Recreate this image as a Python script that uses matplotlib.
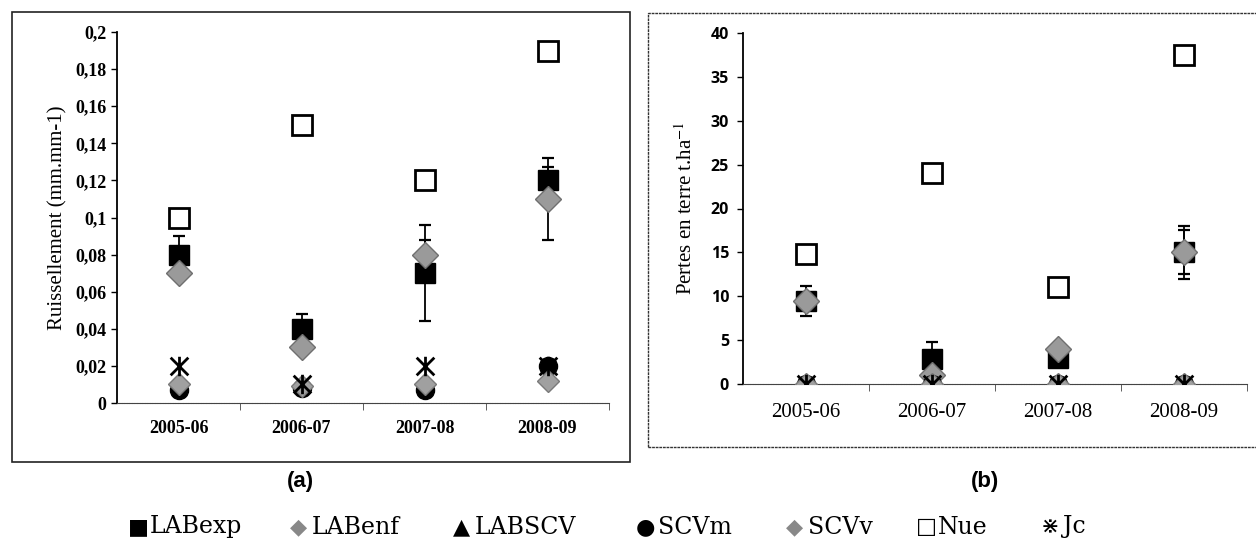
import numpy as np
import matplotlib
matplotlib.use("Agg")
import matplotlib.pyplot as plt
from matplotlib.patches import Rectangle
from matplotlib.path import Path

plt.rcParams["mathtext.fontset"] = "stix"

# data
years = ["2005-06", "2006-07", "2007-08", "2008-09"]
series = ["LABexp", "LABenf", "LABSCV", "SCVm", "SCVv", "Nue", "Jc"]

# (a) Ruissellement
ruis_LABexp = [0.08, 0.04, 0.07, 0.12]
ruis_LABexp_err = [0.01, 0.008, 0.026, 0.007]
ruis_LABenf = [0.07, 0.03, 0.08, 0.11]
ruis_LABenf_err = [0.0, 0.0, 0.008, 0.022]
ruis_LABSCV = [0.007, 0.008, 0.007, 0.02]
ruis_SCVm = [0.007, 0.008, 0.007, 0.02]
ruis_SCVv = [0.01, 0.009, 0.01, 0.012]
ruis_Nue = [0.1, 0.15, 0.12, 0.19]
ruis_Jc = [0.02, 0.01, 0.02, 0.02]

# (b) Pertes en terre
pert_LABexp = [9.5, 2.8, 3.0, 15.0]
pert_LABexp_err = [1.7, 2.0, 0.0, 3.0]
pert_LABenf = [9.5, 1.0, 4.0, 15.0]
pert_LABenf_err = [0.0, 0.0, 0.0, 2.5]
pert_LABSCV = [0.0, 0.0, 0.0, 0.0]
pert_SCVm = [0.0, 0.0, 0.0, 0.0]
pert_SCVv = [0.0, 0.0, 0.0, 0.0]
pert_Nue = [14.8, 24.0, 11.0, 37.5]
pert_Jc = [0.0, 0.0, 0.0, 0.0]

W, H = 1256, 547
fig = plt.figure(figsize=(W / 100, H / 100), dpi=100)

# frames around each panel
fig.patches.append(Rectangle((12 / W, 1 - 462 / H), 618 / W, 450 / H, transform=fig.transFigure,
                             fill=False, edgecolor="#222222", linewidth=1.2))
fig.patches.append(Rectangle((648 / W, 1 - 447 / H), 620 / W, 434 / H, transform=fig.transFigure,
                             fill=False, edgecolor="#333333", linewidth=1.0, linestyle=(0, (2, 0.6))))

# excel-like star: X with a vertical bar
starMarker = Path([(-1, -1), (1, 1), (-1, 1), (1, -1), (0, -1.1), (0, 1.1)],
                  [Path.MOVETO, Path.LINETO, Path.MOVETO, Path.LINETO, Path.MOVETO, Path.LINETO])

styles = {
    "LABexp": dict(marker="s", color="black", mec="black", ms=15),
    "LABenf": dict(marker="D", color="#9a9a9a", mec="#6f6f6f", ms=13),
    "LABSCV": dict(marker="^", color="black", mec="black", ms=9),
    "SCVm": dict(marker="o", color="black", mec="black", ms=13),
    "SCVv": dict(marker="D", color="#a0a0a0", mec="#7a7a7a", ms=11),
    "Nue": dict(marker="s", color="white", mec="black", ms=15),
    "Jc": dict(marker=starMarker, color="black", mec="black", ms=14),
}


def drawPanel(ax, data, errs, ymax, ystep):
    x = np.arange(len(years)) + 0.5
    for name in series:
        st = styles[name]
        mew = 2.0 if name in ("Nue", "Jc") else 1.0
        ax.plot(x, data[name], linestyle="none", marker=st["marker"], markersize=st["ms"],
                markerfacecolor=st["color"], markeredgecolor=st["mec"], markeredgewidth=mew,
                zorder=3)
        if name in errs:
            e = np.array(errs[name])
            keep = e > 0
            ax.errorbar(x[keep], np.array(data[name])[keep], yerr=e[keep], fmt="none",
                        ecolor="black", elinewidth=1.3, capsize=4, capthick=1.6, zorder=2)
    ax.set_xlim(0, 4)
    ax.set_ylim(0, ymax)
    ax.set_yticks(np.arange(0, ymax + ystep / 2, ystep))
    ax.set_xticks(x)
    ax.set_xticks([1, 2, 3, 4], minor=True)
    ax.tick_params(axis="x", which="major", length=0, pad=14)
    ax.tick_params(axis="x", which="minor", length=5, direction="out", color="#444444")
    ax.tick_params(axis="y", length=4, direction="out", width=1)
    ax.spines["top"].set_visible(False)
    ax.spines["right"].set_visible(False)
    ax.spines["left"].set_linewidth(1.3)
    ax.spines["bottom"].set_linestyle((0, (1.5, 0.8)))
    ax.spines["bottom"].set_color("#444444")
    ax.set_facecolor("none")


axA = fig.add_axes([117 / W, 1 - 403 / H, 492 / W, 371 / H])
drawPanel(axA,
          {"LABexp": ruis_LABexp, "LABenf": ruis_LABenf, "LABSCV": ruis_LABSCV, "SCVm": ruis_SCVm,
           "SCVv": ruis_SCVv, "Nue": ruis_Nue, "Jc": ruis_Jc},
          {"LABexp": ruis_LABexp_err, "LABenf": ruis_LABenf_err},
          0.2, 0.02)
yLabelsA = ["0" if v == 0 else f"{v:g}".replace(".", ",") for v in np.arange(0, 0.201, 0.02).round(2)]
axA.set_yticklabels(yLabelsA, fontfamily="Liberation Serif", fontweight="bold", fontsize=13)
axA.set_xticklabels(years, fontfamily="Liberation Serif", fontweight="bold", fontsize=13)
axA.tick_params(axis="x", which="major", pad=12)
axA.set_ylabel("Ruissellement (mm.mm-1)", fontfamily="Liberation Serif", fontsize=15, labelpad=6)

axB = fig.add_axes([743 / W, 1 - 384 / H, 504 / W, 351 / H])
drawPanel(axB,
          {"LABexp": pert_LABexp, "LABenf": pert_LABenf, "LABSCV": pert_LABSCV, "SCVm": pert_SCVm,
           "SCVv": pert_SCVv, "Nue": pert_Nue, "Jc": pert_Jc},
          {"LABexp": pert_LABexp_err, "LABenf": pert_LABenf_err},
          40, 5)
axB.set_yticklabels([f"{v:g}" for v in np.arange(0, 41, 5)], fontfamily="Open Sans",
                    fontweight="bold", fontsize=11.5)
axB.set_xticklabels(years, fontfamily="Liberation Serif", fontsize=15)
axB.tick_params(axis="x", which="major", pad=14)
axB.tick_params(axis="y", pad=6)
axB.set_ylabel("Pertes en terre t.ha$^{-1}$", fontfamily="Liberation Serif", fontsize=15, labelpad=10)

fig.text(300 / W, 1 - 481 / H, "(a)", ha="center", va="center", fontsize=16,
         fontfamily="Liberation Sans", fontweight="bold")
fig.text(985 / W, 1 - 481 / H, "(b)", ha="center", va="center", fontsize=16,
         fontfamily="Liberation Sans", fontweight="bold")

# legend row along the bottom
legend_syms = ["■", "◆", "▲", "●", "◆", "□", "⋇"]
legend_x = [128, 290, 453, 636, 786, 916, 1041]
legend_col = ["black", "#888888", "black", "black", "#888888", "black", "black"]
for name, sym, lx, col in zip(series, legend_syms, legend_x, legend_col):
    fig.text(lx / W, 1 - 527 / H, sym, ha="left", va="center", fontsize=16,
             fontfamily="DejaVu Sans", color=col)
    fig.text((lx + 22) / W, 1 - 527 / H, name, ha="left", va="center", fontsize=17,
             fontfamily="DejaVu Serif", color="black")

fig.savefig("out.png", dpi=100)
